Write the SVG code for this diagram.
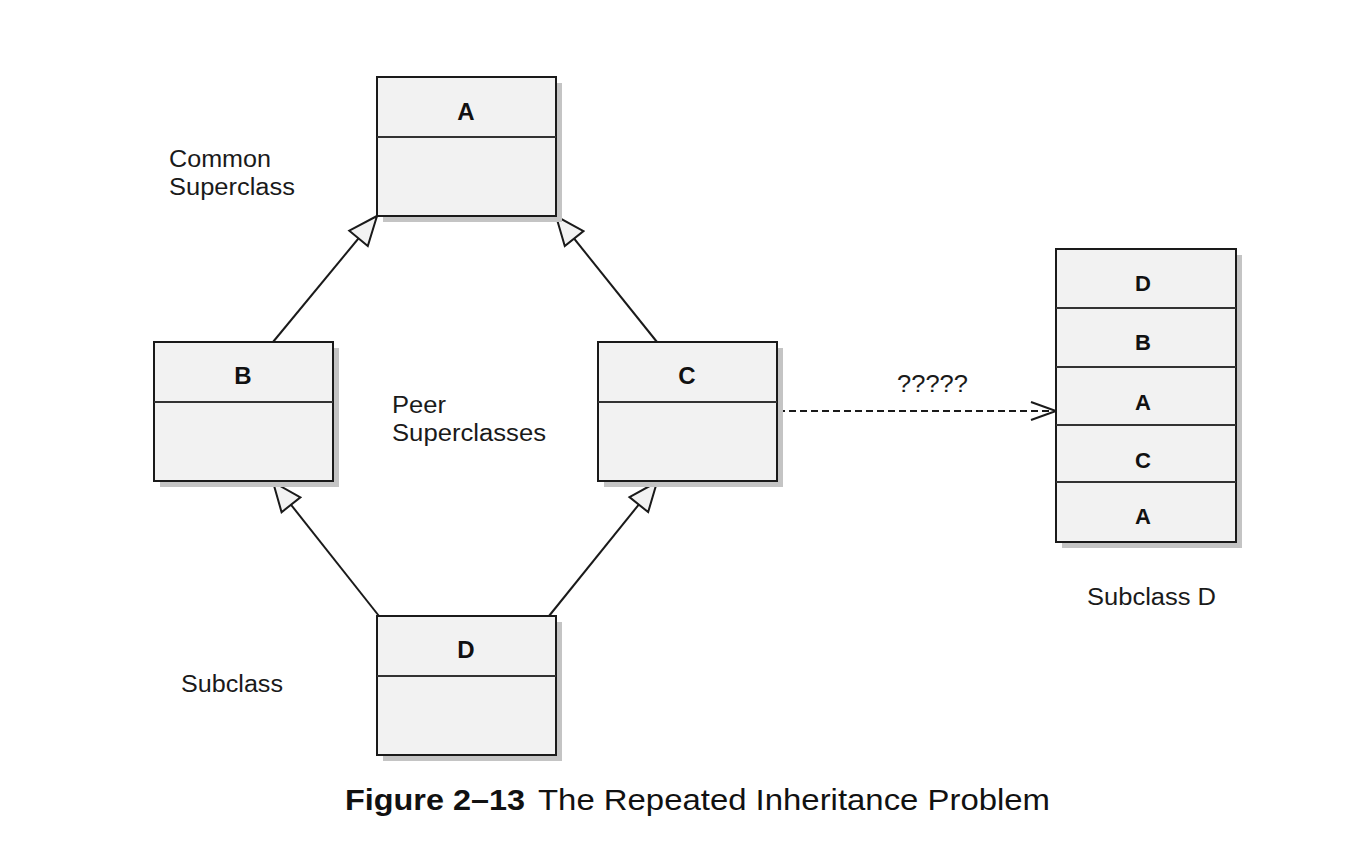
<svg xmlns="http://www.w3.org/2000/svg" width="1352" height="868" viewBox="0 0 1352 868">
<style>
.box{fill:#f2f2f2;stroke:#1a1a1a;stroke-width:2}
.sh{fill:#c4c4c4}
.div{stroke:#333;stroke-width:2}
.name{font-family:"Liberation Sans",Arial,sans-serif;font-weight:bold;font-size:24px;text-anchor:middle;fill:#111}
.sname{font-family:"Liberation Sans",Arial,sans-serif;font-weight:bold;font-size:22px;text-anchor:middle;fill:#111}
.lbl{font-family:"Liberation Sans",Arial,sans-serif;font-size:23px;fill:#1a1a1a}
.edge{stroke:#1a1a1a;stroke-width:2;fill:none}
</style>
<defs>
<marker id="tri" markerWidth="34" markerHeight="28" refX="31" refY="14" orient="auto" markerUnits="userSpaceOnUse">
<path d="M31,14 L2,2 L2,26 Z" fill="#f2f2f2" stroke="#1a1a1a" stroke-width="2"/>
</marker>
<marker id="open" markerWidth="30" markerHeight="24" refX="27" refY="12" orient="auto" markerUnits="userSpaceOnUse">
<path d="M2,3 L27,12 L2,21" fill="none" stroke="#1a1a1a" stroke-width="2"/>
</marker>
</defs>
<rect width="1352" height="868" fill="#fff"/>
<g id="connectors">
<line class="edge" x1="273" y1="342" x2="377" y2="216" marker-end="url(#tri)"/>
<line class="edge" x1="657" y1="342" x2="556" y2="216" marker-end="url(#tri)"/>
<line class="edge" x1="379" y1="616" x2="273" y2="482" marker-end="url(#tri)"/>
<line class="edge" x1="549" y1="616" x2="657" y2="482" marker-end="url(#tri)"/>
<line class="edge" x1="778" y1="411" x2="1056" y2="411" stroke-dasharray="7,4" marker-end="url(#open)"/>
<text class="lbl" x="897" y="392" font-size="22" textLength="71" lengthAdjust="spacingAndGlyphs">?????</text>
</g>
<g id="nodeA">
<rect class="sh" x="383" y="83" width="179" height="139"/>
<rect class="box" x="377" y="77" width="179" height="139"/>
<line class="div" x1="377" y1="137" x2="556" y2="137"/>
<text class="name" x="466" y="120">A</text>
</g>
<g id="nodeB">
<rect class="sh" x="160" y="348" width="179" height="139"/>
<rect class="box" x="154" y="342" width="179" height="139"/>
<line class="div" x1="154" y1="402" x2="333" y2="402"/>
<text class="name" x="243" y="384">B</text>
</g>
<g id="nodeC">
<rect class="sh" x="604" y="348" width="179" height="139"/>
<rect class="box" x="598" y="342" width="179" height="139"/>
<line class="div" x1="598" y1="402" x2="777" y2="402"/>
<text class="name" x="687" y="384">C</text>
</g>
<g id="nodeD">
<rect class="sh" x="383" y="622" width="179" height="139"/>
<rect class="box" x="377" y="616" width="179" height="139"/>
<line class="div" x1="377" y1="676" x2="556" y2="676"/>
<text class="name" x="466" y="658">D</text>
</g>
<g id="subclassD">
<rect class="sh" x="1062" y="255" width="180" height="293"/>
<rect class="box" x="1056" y="249" width="180" height="293"/>
<line class="div" x1="1056" y1="308" x2="1236" y2="308"/>
<line class="div" x1="1056" y1="367" x2="1236" y2="367"/>
<line class="div" x1="1056" y1="425" x2="1236" y2="425"/>
<line class="div" x1="1056" y1="482" x2="1236" y2="482"/>
<text class="sname" x="1143" y="291">D</text>
<text class="sname" x="1143" y="350">B</text>
<text class="sname" x="1143" y="410">A</text>
<text class="sname" x="1143" y="468">C</text>
<text class="sname" x="1143" y="524">A</text>
</g>
<g id="labels">
<text class="lbl" x="169" y="167" textLength="102" lengthAdjust="spacingAndGlyphs">Common</text>
<text class="lbl" x="169" y="195" textLength="126" lengthAdjust="spacingAndGlyphs">Superclass</text>
<text class="lbl" x="392" y="413" textLength="54" lengthAdjust="spacingAndGlyphs">Peer</text>
<text class="lbl" x="392" y="441" textLength="154" lengthAdjust="spacingAndGlyphs">Superclasses</text>
<text class="lbl" x="181" y="692" textLength="102" lengthAdjust="spacingAndGlyphs">Subclass</text>
<text class="lbl" x="1087" y="605" textLength="129" lengthAdjust="spacingAndGlyphs">Subclass D</text>
<text x="345" y="810" font-family="Liberation Sans,Arial,sans-serif" font-size="29" font-weight="bold" fill="#111" textLength="180" lengthAdjust="spacingAndGlyphs">Figure 2–13</text>
<text x="538" y="810" font-family="Liberation Sans,Arial,sans-serif" font-size="29" fill="#111" textLength="512" lengthAdjust="spacingAndGlyphs">The Repeated Inheritance Problem</text>
</g>
</svg>
